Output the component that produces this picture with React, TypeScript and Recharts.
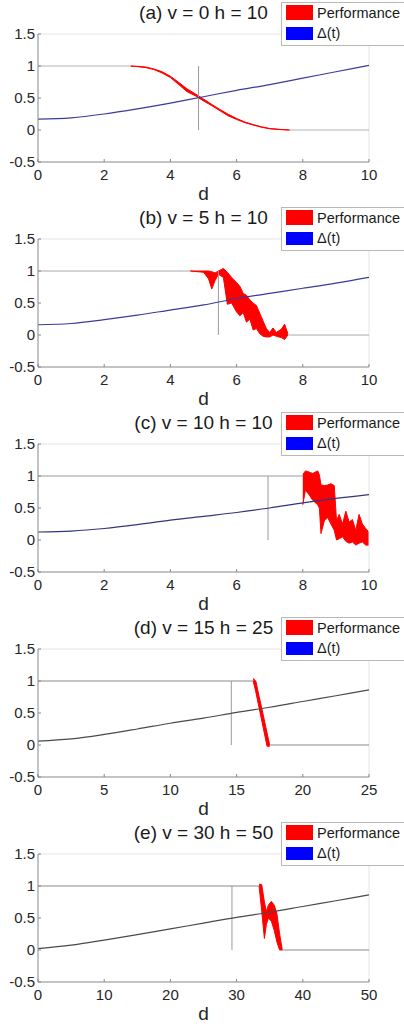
import React from "react";
import { ComposedChart, Area, Line, XAxis, YAxis, ReferenceLine } from "recharts";

const titles = ["(a) v = 0 h = 10", "(b) v = 5 h = 10", "(c) v = 10 h = 10", "(d) v = 15 h = 25", "(e) v = 30 h = 50"];
const dMax = [10, 10, 10, 25, 50];
const xTicks = [
  [0, 2, 4, 6, 8, 10],
  [0, 2, 4, 6, 8, 10],
  [0, 2, 4, 6, 8, 10],
  [0, 5, 10, 15, 20, 25],
  [0, 10, 20, 30, 40, 50],
];
const yTicks = [-0.5, 0, 0.5, 1, 1.5];
const switchD = [4.85, 5.45, 6.95, 14.6, 29.3];
const bandStart = [2.8, 4.6, 8.0, 16.25, 33.4];
const bandEnd = [7.6, 7.55, 10, 17.5, 36.9];

// Δ(t)
const deltaD10 = [0, 1, 2, 3, 4, 5, 6, 7, 8, 9, 10];
const deltaD25 = [0, 2.5, 5, 7.5, 10, 12.5, 15, 17.5, 20, 22.5, 25];
const deltaD50 = [0, 5, 10, 15, 20, 25, 30, 35, 40, 45, 50];
const deltaA = [0.17, 0.19, 0.25, 0.33, 0.42, 0.52, 0.62, 0.71, 0.81, 0.91, 1.01];
const deltaB = [0.16, 0.18, 0.24, 0.31, 0.39, 0.47, 0.57, 0.65, 0.73, 0.81, 0.9];
const deltaC = [0.125, 0.14, 0.18, 0.24, 0.31, 0.37, 0.43, 0.5, 0.58, 0.65, 0.71];
const deltaDd = [0.06, 0.095, 0.165, 0.25, 0.34, 0.42, 0.51, 0.59, 0.68, 0.77, 0.86];
const deltaE = [0.02, 0.075, 0.155, 0.24, 0.33, 0.42, 0.51, 0.59, 0.68, 0.77, 0.86];

// Performance band (min / max)
const bandDA = [2.8, 3.0, 3.25, 3.5, 3.75, 4.0, 4.25, 4.5, 4.75, 5.0, 5.25, 5.5, 5.75, 6.0, 6.25, 6.5, 6.75, 7.0, 7.3, 7.6];
const bandLoA = [1.0, 0.99, 0.975, 0.945, 0.89, 0.82, 0.71, 0.6, 0.535, 0.455, 0.38, 0.3, 0.22, 0.165, 0.115, 0.077, 0.043, 0.019, 0.007, 0];
const bandHiA = [1.0, 0.995, 0.985, 0.955, 0.91, 0.84, 0.745, 0.645, 0.565, 0.485, 0.4, 0.32, 0.245, 0.18, 0.125, 0.085, 0.05, 0.024, 0.01, 0];

const bandDB = [4.6, 5.0, 5.15, 5.25, 5.35, 5.45, 5.6, 5.72, 5.85, 6.0, 6.1, 6.2, 6.3, 6.4, 6.5, 6.6, 6.7, 6.8, 6.9, 7.0, 7.1, 7.2, 7.35, 7.45, 7.55];
const bandLoB = [1.0, 0.98, 0.88, 0.72, 0.85, 0.95, 0.9, 0.48, 0.5, 0.36, 0.3, 0.35, 0.2, 0.25, 0.08, 0.1, 0.02, -0.02, -0.03, -0.03, 0.0, -0.02, -0.04, -0.07, 0.0];
const bandHiB = [1.0, 1.0, 1.0, 0.99, 0.97, 1.0, 1.04, 0.98, 0.9, 0.82, 0.76, 0.65, 0.62, 0.55, 0.5, 0.46, 0.34, 0.22, 0.1, 0.04, 0.11, 0.04, 0.09, 0.17, 0.02];

const bandDC = [8.0, 8.08, 8.2, 8.3, 8.45, 8.5, 8.55, 8.65, 8.75, 8.85, 8.95, 9.02, 9.1, 9.2, 9.3, 9.4, 9.5, 9.6, 9.7, 9.8, 9.9, 10.0];
const bandLoC = [0.55, 0.78, 0.7, 0.62, 0.55, 0.5, 0.1, 0.3, 0.35, 0.25, 0.15, 0.0, 0.02, 0.05, -0.02, -0.05, -0.03, -0.08, -0.05, -0.03, -0.08, -0.08];
const bandHiC = [1.02, 1.08, 1.06, 1.04, 1.08, 1.02, 0.86, 0.85, 0.86, 0.88, 0.85, 0.3, 0.4, 0.25, 0.45, 0.28, 0.32, 0.15, 0.4, 0.25, 0.18, 0.12];

const bandDD = [16.25, 16.45, 16.7, 17.0, 17.3, 17.5];
const bandLoD = [1.0, 0.83, 0.58, 0.28, -0.02, -0.02];
const bandHiD = [1.04, 1.0, 0.76, 0.48, 0.19, 0.0];

const bandDE = [33.4, 33.8, 34.2, 34.5, 34.8, 35.25, 35.7, 36.1, 36.5, 36.9];
const bandLoE = [1.0, 0.6, 0.18, 0.4, 0.5, 0.45, 0.3, 0.12, 0.0, 0.0];
const bandHiE = [1.03, 1.02, 0.75, 0.6, 0.7, 0.76, 0.7, 0.56, 0.25, 0.0];

const deltaX = [deltaD10, deltaD10, deltaD10, deltaD25, deltaD50];
const deltaY = [deltaA, deltaB, deltaC, deltaDd, deltaE];
const bandX = [bandDA, bandDB, bandDC, bandDD, bandDE];
const bandLo = [bandLoA, bandLoB, bandLoC, bandLoD, bandLoE];
const bandHi = [bandHiA, bandHiB, bandHiC, bandHiD, bandHiE];

const FONT = '"Liberation Sans", Arial, Helvetica, sans-serif';
const deltaStroke = ["#3b3b9c", "#3b3b9c", "#34347e", "#4a4a4a", "#4a4a4a"];
const flatStroke = ["#b4b4b4", "#aaaaaa", "#9a9a9a", "#8a8a8a", "#8a8a8a"];

type Row = { d: number; one?: number; zero?: number; delta?: number; lo?: number; hi?: number };

function buildRows(i: number): Row[] {
  const rows: Row[] = [
    { d: 0, one: 1 },
    { d: bandStart[i], one: 1 },
    { d: bandEnd[i], zero: 0 },
    { d: dMax[i], zero: 0 },
  ];
  deltaX[i].forEach((d, k) => rows.push({ d, delta: deltaY[i][k] }));
  bandX[i].forEach((d, k) => rows.push({ d, lo: bandLo[i][k], hi: bandHi[i][k] }));
  return rows.sort((a, b) => a.d - b.d);
}

function XTick(props: any) {
  const { x, y, payload } = props;
  return (
    <g>
      <line x1={x} x2={x} y1={y} y2={y - 3} stroke="#888" />
      <text x={x} y={y + 17.5} textAnchor="middle" fontSize={15} fill="#262626" fontFamily={FONT}>
        {payload.value}
      </text>
    </g>
  );
}

function YTick(props: any) {
  const { x, y, payload } = props;
  return (
    <g>
      <line x1={x} x2={x + 3} y1={y} y2={y} stroke="#888" />
      <text x={x - 3} y={y + 5.3} textAnchor="end" fontSize={15} fill="#262626" fontFamily={FONT}>
        {String(payload.value)}
      </text>
    </g>
  );
}

function Panel({ i }: { i: number }) {
  const data = buildRows(i);
  const s = switchD[i];
  return (
    <div style={{ position: "relative", width: 404, height: 205 }}>
      <ComposedChart width={404} height={205} data={data} margin={{ top: 34, right: 35, left: 0, bottom: 0 }}>
        <XAxis
          type="number"
          dataKey="d"
          domain={[0, dMax[i]]}
          ticks={xTicks[i]}
          interval={0}
          allowDataOverflow
          height={43}
          stroke="#888"
          tickLine={false}
          tickSize={0}
          tickMargin={0}
          tick={<XTick />}
          label={{ value: "d", position: "insideBottom", offset: 5, fontSize: 19, fill: "#262626", fontFamily: FONT }}
        />
        <YAxis
          type="number"
          domain={[-0.5, 1.5]}
          ticks={yTicks}
          interval={0}
          allowDataOverflow
          width={38}
          stroke="#888"
          tickLine={false}
          tickSize={0}
          tickMargin={0}
          tick={<YTick />}
        />
        <ReferenceLine y={1.5} stroke="#e4e4e4" />
        <ReferenceLine x={dMax[i]} stroke="#e4e4e4" />
        <ReferenceLine segment={[{ x: s, y: 0 }, { x: s, y: 1 }]} stroke="#9a9a9a" />
        <Line dataKey="one" stroke={flatStroke[i]} strokeWidth={1} dot={false} connectNulls isAnimationActive={false} />
        <Line dataKey="zero" stroke={flatStroke[i]} strokeWidth={1} dot={false} connectNulls isAnimationActive={false} />
        <Area
          type="linear"
          dataKey={(r: Row) => (r.lo === undefined ? null : [r.lo, r.hi])}
          fill="#ff0000"
          fillOpacity={1}
          stroke="#ff0000"
          strokeWidth={1}
          connectNulls
          isAnimationActive={false}
        />
        <Line
          type="monotone"
          dataKey="delta"
          stroke={deltaStroke[i]}
          strokeWidth={1.2}
          dot={false}
          connectNulls
          isAnimationActive={false}
        />
      </ComposedChart>
      <div
        style={{
          position: "absolute", left: 38, top: 2, width: 331, textAlign: "center",
          fontSize: 19, lineHeight: "22px", color: "#1a1a1a", fontFamily: FONT,
        }}
      >
        {titles[i]}
      </div>
      <div
        style={{
          position: "absolute", left: 281, top: 2, width: 140, height: 44,
          border: "1px solid #b8b8b8", background: "#fff", boxSizing: "border-box",
        }}
      />
      <div style={{ position: "absolute", left: 286, top: 5, width: 27, height: 15, background: "#ff0000" }} />
      <div style={{ position: "absolute", left: 286, top: 27, width: 27, height: 13, background: "#0000ff" }} />
      <div style={{ position: "absolute", left: 317, top: 4, fontSize: 14.5, lineHeight: "18px", color: "#1a1a1a", fontFamily: FONT }}>
        Performance
      </div>
      <div style={{ position: "absolute", left: 317, top: 24, fontSize: 14.5, lineHeight: "18px", color: "#1a1a1a", fontFamily: FONT }}>
        Δ(t)
      </div>
    </div>
  );
}

export default function App() {
  return (
    <div style={{ position: "absolute", left: 0, top: 0, width: 404, height: 1027, overflow: "hidden", background: "#fff" }}>
      {titles.map((_, i) => (
        <Panel key={i} i={i} />
      ))}
    </div>
  );
}
